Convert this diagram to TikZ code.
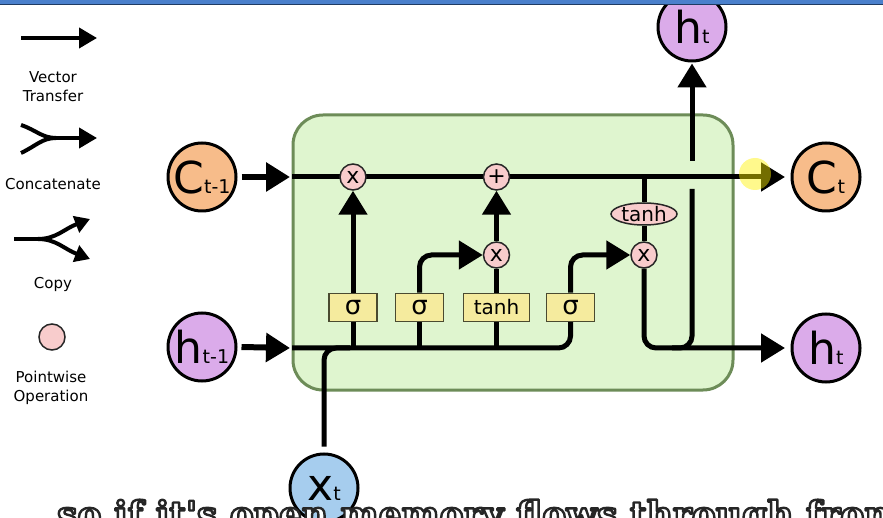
\documentclass[tikz,border=0pt]{standalone}
\usepackage{fontspec}
\setmainfont{DejaVu Sans}
\newfontfamily\subfnt{DejaVu Serif}
\usetikzlibrary{arrows.meta,calc,shapes.geometric}
\definecolor{corange}{HTML}{F7BC8A}
\definecolor{hpurple}{HTML}{DBABEA}
\definecolor{xblue}{HTML}{A6CDEE}
\definecolor{opink}{HTML}{F8CCCC}
\definecolor{gyellow}{HTML}{F5EB9E}
\definecolor{gateborder}{HTML}{4A4A30}
\definecolor{cellfill}{HTML}{DFF5CF}
\definecolor{cellborder}{HTML}{6D8C58}
\definecolor{barblue}{HTML}{4A80CC}
\definecolor{bardark}{HTML}{1F3B63}
\pgfdeclarelayer{back}
\pgfsetlayers{back,main}
\newcommand\stlab[2]{\fontsize{44}{44}\selectfont #1\fontsize{19}{19}\selectfont #2}
\newcommand\subtxt{so if it's open memory flows through from}
\newcommand\outlinetext[1]{\special{pdf:literal direct 1 1 1 rg 0.15 0.15 0.15 RG 2 Tr 2.4 w 1 j}#1\special{pdf:literal direct 0 Tr}}
\begin{document}
\begin{tikzpicture}[x=1pt,y=-1pt,
  wire/.style={line width=5pt},
  tipbig/.style={-{Triangle[length=24pt,width=28pt]}},
  tipleg/.style={-{Triangle[length=18pt,width=20pt]}},
  tipcopy/.style={-{Triangle[length=15pt,width=17pt]}},
  legwire/.style={line width=4pt},
  state/.style={circle,draw,line width=3pt,minimum size=68pt,inner sep=0pt},
  op/.style={circle,draw=black!85,line width=1.5pt,fill=opink,minimum size=26pt,inner sep=0pt,font=\fontsize{22}{22}\selectfont},
  opell/.style={ellipse,draw=black!85,line width=1.5pt,fill=opink,minimum width=66pt,minimum height=22pt,inner sep=0pt,font=\fontsize{20}{20}\selectfont},
  gate/.style={rectangle,draw=gateborder,line width=1.5pt,fill=gyellow,minimum width=48pt,minimum height=28pt,inner sep=0pt},
  sig/.style={gate,font=\fontsize{26}{26}\selectfont},
  tgate/.style={gate,minimum width=66pt,font=\fontsize{20}{20}\selectfont},
  cellbox/.style={rectangle,rounded corners=30pt,draw=cellborder,line width=3pt,fill=cellfill,minimum width=440pt,minimum height=275pt},
  legtxt/.style={align=center,font=\fontsize{15}{19}\selectfont},
  subt/.style={anchor=base west,inner sep=0pt,font=\subfnt\bfseries\fontsize{36}{36}\selectfont}
]
\useasboundingbox (0,0) rectangle (883,518);
\clip (0,0) rectangle (883,518);

% background and cell
\begin{pgfonlayer}{back}
\fill[white] (0,0) rectangle (883,518);
\node[cellbox] (cell) at (513,252.5) {};
\end{pgfonlayer}

% state circles
\node[state,fill=corange] (cprev) at (202,177) {\stlab{C}{t-1}};
\node[state,fill=hpurple] (hprev) at (202,347) {\stlab{h}{t-1}};
\node[state,fill=xblue] (xt) at (324,488) {\stlab{x}{t}};
\node[state,fill=corange] (cnext) at (826,177) {\stlab{C}{t}};
\node[state,fill=hpurple] (hnext) at (826,348) {\stlab{h}{t}};
\node[state,fill=hpurple] (hup) at (692,27) {\stlab{h}{t}};

% pointwise ops
\node[op] (fx) at (353,177) {x};
\node[op] (plus) at (496.5,177) {+};
\node[op] (ix) at (496.5,255) {x};
\node[op] (ox) at (644,255) {x};
\node[opell] (th) at (644,214) {tanh};

% gates
\node[sig] (g1) at (353,307.5) {σ};
\node[sig] (g2) at (419.5,307.5) {σ};
\node[tgate] (g3) at (496.5,307.5) {tanh};
\node[sig] (g4) at (570.5,307.5) {σ};

% coordinates
\coordinate (cin) at (292,177);
\coordinate (hin) at (292,348);
\coordinate (ctip) at (785,177);
\coordinate (htip) at (785,348);
\coordinate (hbend) at (570.5,348);
\coordinate (xbend) at (324,348);
\coordinate (xjoin) at (350,348);
\coordinate (obend) at (644,348);
\coordinate (vlow) at (692,189);
\coordinate (vlowend) at (692,348);
\coordinate (vup) at (692,161);

\begin{pgfonlayer}{back}
% inputs
\draw[wire,line width=6pt,tipbig] (cprev.east) ++(4,0) -- (290,177);
\draw[wire,line width=6pt,tipbig] (hprev.east) ++(4,0) -- (290,348);
% cell state line
\draw[wire,tipbig] (cin) -- (ctip);
% hidden line
\draw[wire,rounded corners=12pt] (hin) -- (hbend) -- (g4.south);
\draw[wire,rounded corners=12pt] ($(xt.north)+(0,-6)$) -- (xbend) -- (xjoin);
% gate 1
\draw[wire] (g1.south |- hin) -- (g1.south);
\draw[wire,tipbig] (g1.north) -- (fx.south);
% gate 2
\draw[wire] (g2.south |- hin) -- (g2.south);
\draw[wire,tipbig,rounded corners=12pt] (g2.north) |- (ix.west);
% gate 3
\draw[wire] (g3.south |- hin) -- (g3.south);
\draw[wire] (g3.north) -- (ix.south);
\draw[wire,tipbig] (ix.north) -- (plus.south);
% gate 4
\draw[wire,tipbig,rounded corners=12pt] (g4.north) |- (ox.west);
% output
\draw[wire] (th.north |- cin) -- (th.north);
\draw[wire] (th.south) -- (ox.north);
\draw[wire,tipbig,rounded corners=12pt] (ox.south) -- (obend) -- (htip);
\draw[wire,rounded corners=12pt] (vlow) -- (vlowend) -- ++(-20,0);
\draw[wire,tipbig] (vup) -- ($(hup.south)+(0,1)$);
\end{pgfonlayer}

% highlight
\fill[yellow,opacity=0.45] (755,174) circle (16);

% legend
\coordinate (l1a) at (21,38);
\coordinate (l1b) at (97,38);
\draw[legwire,tipleg] (l1a) -- (l1b);
\node[legtxt] (t1) at (53,87) {Vector\\Transfer};

\coordinate (l2u) at (21,125);
\coordinate (l2d) at (21,153);
\coordinate (l2m) at (56,138);
\coordinate (l2b) at (97,138);
\draw[legwire] (l2u) .. controls (36,130) and (42,138) .. (l2m);
\draw[legwire] (l2d) .. controls (36,146) and (42,138) .. (l2m);
\draw[legwire,tipleg] (54,138) -- (l2b);
\node[legtxt] (t2) at (53,184) {Concatenate};

\coordinate (l3a) at (14,239);
\coordinate (l3m) at (38,239);
\coordinate (l3u) at (90,219);
\coordinate (l3d) at (90,259);
\draw[legwire] (l3a) -- (l3m);
\draw[legwire,tipcopy] (l3m) .. controls (56,239) and (64,229) .. (l3u);
\draw[legwire,tipcopy] (l3m) .. controls (56,239) and (64,249) .. (l3d);
\node[legtxt] (t3) at (53,284) {Copy};

\node[op,minimum size=26pt] (pw) at (52,337) {};
\node[legtxt] (t4) at (51,387.5) {Pointwise\\Operation};

% subtitle (cut off at the bottom edge)
\node[subt] (sub) at (57,527) {\outlinetext{\subtxt}};

% top bar
\fill[barblue] (0,0) rectangle (883,4.5);
\draw[bardark,line width=1pt] (0,4.5) -- (883,4.5);
\end{tikzpicture}
\end{document}
